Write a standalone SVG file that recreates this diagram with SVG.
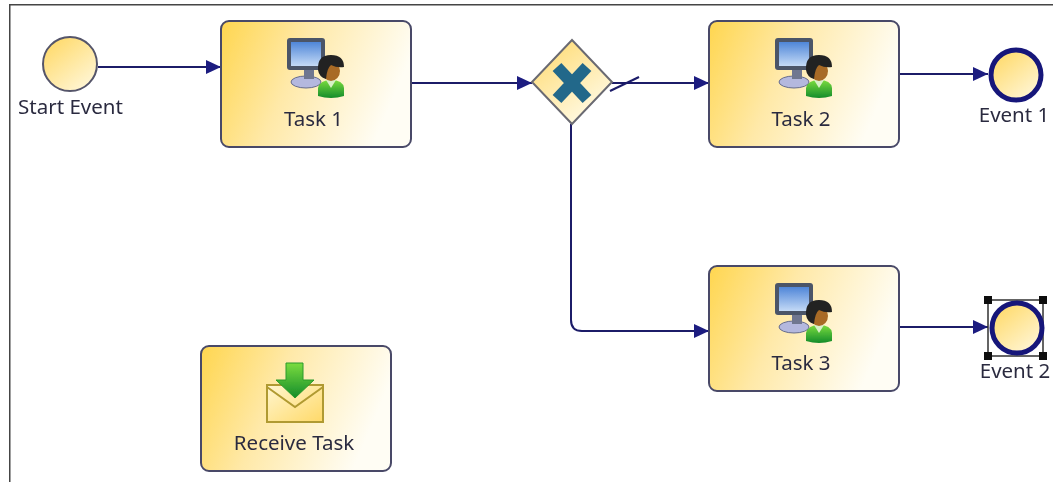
<svg xmlns="http://www.w3.org/2000/svg" xmlns:xlink="http://www.w3.org/1999/xlink" width="1053" height="482" viewBox="0 0 1053 482">
<style>
text{font-family:"Noto Sans","Liberation Sans",sans-serif;font-size:20.500px;fill:#2c2c40;text-anchor:middle}
.task{fill:url(#taskFill);stroke:#4a4a68;stroke-width:2}
.conn{fill:none;stroke:#1a1a68;stroke-width:2}
.ev{fill:url(#evFill)}
.h{fill:#111}
</style>
<defs>
<filter id="soft" x="0" y="0" width="100%" height="100%"><feGaussianBlur stdDeviation="0.5"/></filter>
<linearGradient id="taskFill" x1="0" y1="0" x2="1" y2="0.28"><stop offset="0" stop-color="#ffd64f"/><stop offset="0.45" stop-color="#ffe9a8"/><stop offset="1" stop-color="#fffdf4"/></linearGradient>
<linearGradient id="evFill" x1="0.1" y1="0" x2="0.9" y2="1"><stop offset="0" stop-color="#ffd863"/><stop offset="1" stop-color="#fff8de"/></linearGradient>
<linearGradient id="gwFill" x1="0" y1="0" x2="0.7" y2="1"><stop offset="0" stop-color="#ffd868"/><stop offset="1" stop-color="#fffbe8"/></linearGradient>
<linearGradient id="envFill" x1="0" y1="0" x2="1" y2="1"><stop offset="0" stop-color="#fff6d0"/><stop offset="1" stop-color="#ffd968"/></linearGradient>
<linearGradient id="screen" x1="0" y1="0" x2="0" y2="1"><stop offset="0" stop-color="#4f86d8"/><stop offset="1" stop-color="#c4daf6"/></linearGradient>
<linearGradient id="green" x1="0" y1="0" x2="0" y2="1"><stop offset="0" stop-color="#7bdc3f"/><stop offset="1" stop-color="#138c2a"/></linearGradient>
<marker id="arrow" markerUnits="userSpaceOnUse" markerWidth="16" markerHeight="14" refX="15" refY="7" orient="auto"><path d="M0 0 L15 7 L0 14 Z" fill="#1c1c80"/></marker>
<g id="userIcon">
<ellipse cx="19" cy="44" rx="15" ry="6" fill="#b4b8de" stroke="#666c8c"/>
<rect x="17" y="31" width="10" height="10" fill="#6f7790"/>
<rect x="0" y="0" width="38" height="32" rx="3" fill="#4b5468"/>
<rect x="4" y="4" width="30" height="24" fill="url(#screen)"/>
<path d="M31 50 Q33 42 44 42 Q56 42 57 50 L57 58 Q44 62 31 58 Z" fill="url(#green)"/>
<path d="M39 42 L44 50 L49 42 Z" fill="#d8f0c8"/>
<ellipse cx="44" cy="33" rx="9" ry="10" fill="#a86a25"/>
<path d="M31 32 Q30 17 44 17 Q57 17 57 29 Q50 30 44 27 Q40 30 39 41 Q32 39 31 32 Z" fill="#222"/>
</g>
</defs>
<rect width="1053" height="482" fill="#fff"/>
<g filter="url(#soft)">
<path d="M1053 4.500H9.500V482" fill="none" stroke="#454545" stroke-width="2"/>
<g id="connectors">
<path class="conn" marker-end="url(#arrow)" d="M98 67H221"/>
<path class="conn" marker-end="url(#arrow)" d="M412 83H532"/>
<path class="conn" marker-end="url(#arrow)" d="M612 83H709"/>
<path class="conn" d="M610 91L639 77"/>
<path class="conn" marker-end="url(#arrow)" d="M571 124V320Q571 331 582 331H709"/>
<path class="conn" marker-end="url(#arrow)" d="M900 74H988"/>
<path class="conn" marker-end="url(#arrow)" d="M900 327H988"/>
</g>
<g id="start-event">
<circle class="ev" cx="70" cy="64" r="27" stroke="#55556a" stroke-width="2"/>
<text x="70.500" y="114">Start Event</text>
</g>
<g id="task-1">
<rect class="task" x="221" y="21" width="190" height="126" rx="8"/>
<use xlink:href="#userIcon" href="#userIcon" x="287" y="38"/>
<text x="313.500" y="126">Task 1</text>
</g>
<g id="gateway">
<path d="M572 40L612 82L572 124L532 82Z" fill="url(#gwFill)" stroke="#6a6a72" stroke-width="2"/>
<path d="M557 67L587 99M587 67L557 99" stroke="#24688a" stroke-width="12" fill="none"/>
</g>
<g id="task-2">
<rect class="task" x="709" y="21" width="190" height="126" rx="8"/>
<use xlink:href="#userIcon" href="#userIcon" x="775" y="38"/>
<text x="801" y="126">Task 2</text>
</g>
<g id="event-1">
<circle class="ev" cx="1016" cy="75" r="25" stroke="#15157a" stroke-width="5"/>
<text x="1014" y="122">Event 1</text>
</g>
<g id="task-3">
<rect class="task" x="709" y="266" width="190" height="125" rx="8"/>
<use xlink:href="#userIcon" href="#userIcon" x="775" y="283"/>
<text x="801" y="370">Task 3</text>
</g>
<g id="event-2">
<path d="M988 300H1043V356H988Z" fill="none" stroke="#333" stroke-width="1.500"/>
<circle class="ev" cx="1017" cy="328" r="25" stroke="#15157a" stroke-width="5"/>
<rect class="h" x="984" y="296" width="8" height="8"/>
<rect class="h" x="1039" y="296" width="8" height="8"/>
<rect class="h" x="984" y="352" width="8" height="8"/>
<rect class="h" x="1039" y="352" width="8" height="8"/>
<text x="1015" y="378">Event 2</text>
</g>
<g id="receive-task">
<rect class="task" x="201" y="346" width="190" height="125" rx="8"/>
<path d="M267 385H323V422H267Z" fill="url(#envFill)" stroke="#b09a30" stroke-width="2"/>
<path d="M267 387L295 407L323 387" fill="none" stroke="#b09a30" stroke-width="2"/>
<path d="M286 363H303V380H314L295 398L276 380H286Z" fill="url(#green)" stroke="#2a9a2a"/>
<text x="294" y="450">Receive Task</text>
</g>
</g>
</svg>
